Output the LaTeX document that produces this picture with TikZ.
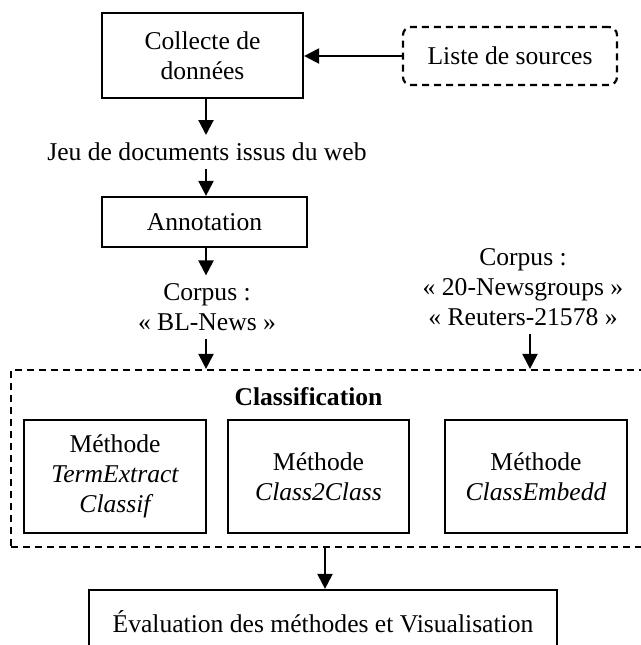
\documentclass[tikz,border=0pt]{standalone}
\usepackage{fontspec}
\setmainfont{Liberation Serif}
\usetikzlibrary{arrows.meta}
\begin{document}
\begin{tikzpicture}[x=0.5pt,y=-0.5pt,
  font=\fontsize{12.8}{15}\selectfont,
  box/.style={draw,line width=1.1pt,inner sep=0pt,align=center},
  dbox/.style={draw,line width=1.1pt,inner sep=0pt,align=center,dash pattern=on 3.5pt off 2.5pt},
  lbl/.style={inner sep=0pt,outer sep=4pt,align=center},
  arr/.style={line width=1.1pt,-{Triangle[length=7.5pt,width=7.5pt]}}]
\useasboundingbox (0,0) rectangle (641,645);
\node[box,minimum width=100.5pt,minimum height=42.5pt] (coll) at (202.5,55.5) {Collecte de\\donn\'ees};
\node[dbox,rounded corners=4pt,minimum width=107pt,minimum height=29pt] (liste) at (510,56) {Liste de sources};
\node[lbl] (jeu) at (207,152) {Jeu de documents issus du web};
\node[box,minimum width=102.5pt,minimum height=25pt] (annot) at (204.5,222) {Annotation};
\node[lbl] (bl) at (207,307) {Corpus :\\\guillemotleft~BL-News~\guillemotright};
\node[lbl] (rc) at (523,287.5) {Corpus :\\\guillemotleft~20-Newsgroups~\guillemotright\\\guillemotleft~Reuters-21578~\guillemotright};
\node[dbox,minimum width=324.5pt,minimum height=88.5pt] (classif) at (335.5,458.5) {};
\node[inner sep=0pt] (ctitle) at (308.5,397) {\bfseries Classification};
\node[box,minimum width=91pt,minimum height=56.5pt] (m1) at (115,476.5) {M\'ethode\\\itshape TermExtract\\\itshape Classif};
\node[box,minimum width=90.5pt,minimum height=56.5pt] (m2) at (318.5,476.5) {M\'ethode\\\itshape Class2Class};
\node[box,minimum width=91pt,minimum height=56.5pt] (m3) at (536,476.5) {M\'ethode\\\itshape ClassEmbedd};
\node[box,minimum width=234pt,minimum height=32pt] (eval) at (323,622) {\'Evaluation des m\'ethodes et Visualisation};
\draw[arr] (liste.west) -- (liste.west -| coll.east);
\draw[arr] ([xshift=1.75pt]coll.south) -- ([xshift=1.75pt]coll.south |- jeu.north);
\draw[arr] ([xshift=0.75pt]annot.north |- jeu.south) -- ([xshift=0.75pt]annot.north);
\draw[arr] ([xshift=0.75pt]annot.south) -- ([xshift=0.75pt]annot.south |- bl.north);
\draw[arr] ([xshift=0.75pt]annot.south |- bl.south) -- ([xshift=0.75pt]annot.south |- classif.north);
\draw[arr] ([xshift=3.5pt]rc.south) -- ([xshift=3.5pt]rc.south |- classif.north);
\draw[arr] ([xshift=1pt]eval.north |- classif.south) -- ([xshift=1pt]eval.north);
\end{tikzpicture}
\end{document}
